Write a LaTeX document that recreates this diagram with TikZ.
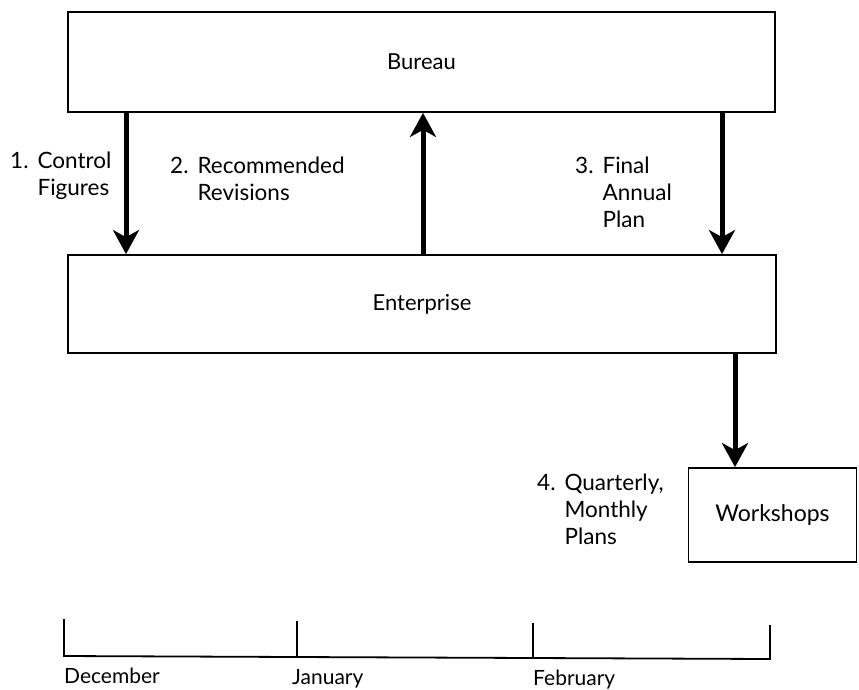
\documentclass[tikz,border=0pt]{standalone}
\usepackage{fontspec}
\setmainfont{Lato}
\usetikzlibrary{arrows.meta}
\tikzset{
  box/.style={draw, line width=1.8pt, rectangle, inner sep=0pt, font=\fontsize{22}{27}\selectfont},
  arr/.style={line width=5pt, -{Stealth[length=24pt,width=26pt,inset=7pt]}},
  lbl/.style={anchor=base west, inner sep=0pt, font=\fontsize{22.5}{27}\selectfont, align=left},
  axis/.style={line width=1.8pt},
  month/.style={anchor=base west, inner sep=0pt, font=\fontsize{21}{24}\selectfont}
}
\newcommand{\numlab}[1]{\begin{tabular}[t]{@{}l@{\hspace{9pt}}l@{}}#1\end{tabular}}
\begin{document}
\begin{tikzpicture}[x=1pt,y=-1pt]
\useasboundingbox (0,0) rectangle (859,689);
\node[box, minimum width=707pt, minimum height=100pt] (bureau) at (421.5,62) {Bureau};
\node[box, minimum width=708pt, minimum height=98pt] (ent) at (422,304) {Enterprise};
\node[box, minimum width=168pt, minimum height=94pt, font=\fontsize{23}{27}\selectfont] (work) at (772.5,515) {Workshops};

\coordinate (x1) at (126,0);
\coordinate (x2) at (423,0);
\coordinate (x3) at (722,0);
\coordinate (x4) at (735,0);
\draw[arr] (bureau.south -| x1) -- (ent.north -| x1);
\draw[arr] (ent.north -| x2) -- (bureau.south -| x2);
\draw[arr] (bureau.south -| x3) -- (ent.north -| x3);
\draw[arr] (ent.south -| x4) -- (work.north -| x4);

\node[lbl] (l1) at (10,168) {\numlab{1.&Control\\&Figures}};
\node[lbl] (l2) at (170,173) {\numlab{2.&Recommended\\&Revisions}};
\node[lbl] (l3) at (575,173) {\numlab{3.&Final\\&Annual\\&Plan}};
\node[lbl] (l4) at (537,490) {\numlab{4.&Quarterly,\\&Monthly\\&Plans}};

\coordinate (t0) at (64,619);
\coordinate (t1) at (297,621);
\coordinate (t2) at (533,623);
\coordinate (t3) at (770,625);
\coordinate (b0) at (64,656);
\coordinate (b1) at (297,657);
\coordinate (b2) at (533,658);
\coordinate (b3) at (770,659);
\draw[axis] (t0) -- (b0) -- (b1) -- (b2) -- (b3) -- (t3);
\draw[axis] (t1) -- (b1);
\draw[axis] (t2) -- (b2);
\node[month] (dec) at (64,683) {December};
\node[month] (jan) at (292,684) {January};
\node[month] (feb) at (533,685) {February};
\end{tikzpicture}
\end{document}
